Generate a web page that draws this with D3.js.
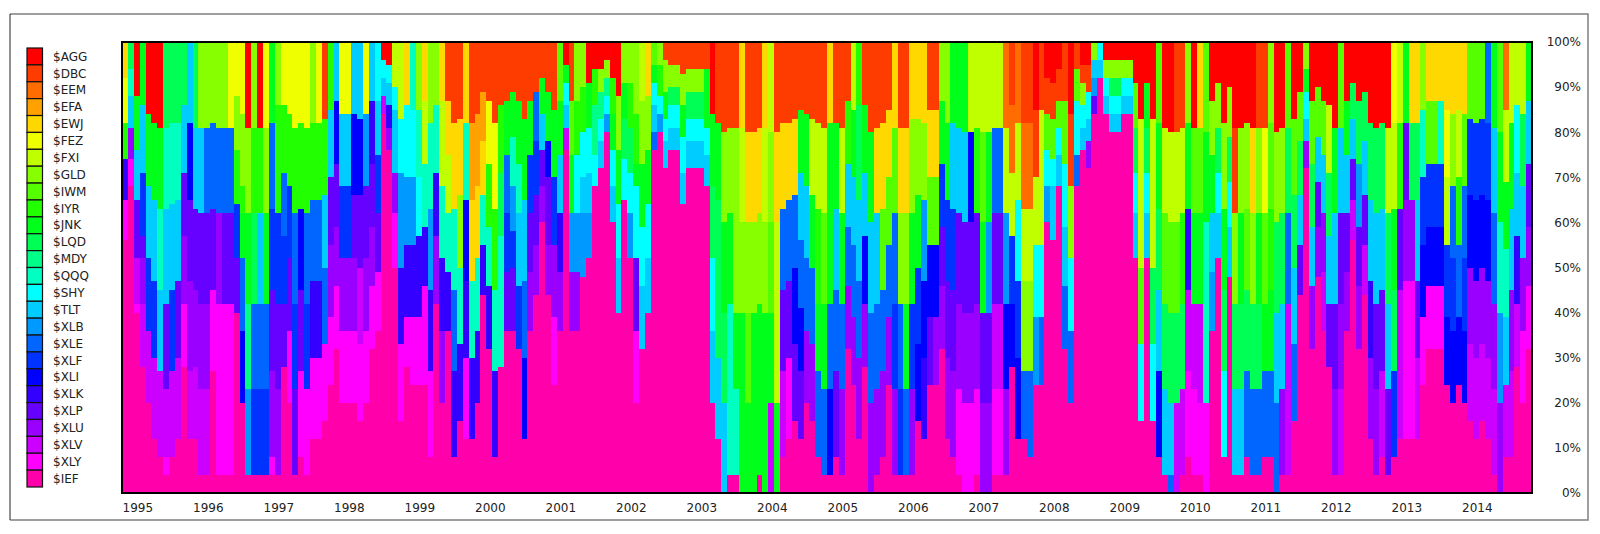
<!DOCTYPE html>
<html><head><meta charset="utf-8">
<script src="https://cdn.jsdelivr.net/npm/d3@7"></script>
<style>html,body{margin:0;background:#fff}text{font-family:"DejaVu Sans",sans-serif;font-size:12px;fill:#222}</style>
</head><body><svg id="c" width="1600" height="534"></svg>
<script>
const tickers=["$AGG","$DBC","$EEM","$EFA","$EWJ","$FEZ","$FXI","$GLD","$IWM","$IYR","$JNK","$LQD","$MDY","$QQQ","$SHY","$TLT","$XLB","$XLE","$XLF","$XLI","$XLK","$XLP","$XLU","$XLV","$XLY","$IEF"];
const colours=["#ff0000","#ff3c00","#ff6c00","#ffa200","#ffd800","#f0ff00","#bfff00","#88ff00","#55ff00","#22ff00","#00ff1a","#00ff55","#00ff88","#00ffc0","#00ffff","#00ccff","#0099ff","#0066ff","#0033ff","#0000ff","#3300ff","#6600ff","#9900ff","#cc00ff","#ff00ff","#ff00aa"];
const years=[1995,1996,1997,1998,1999,2000,2001,2002,2003,2004,2005,2006,2007,2008,2009,2010,2011,2012,2013,2014];
const pctTicks=[0,10,20,30,40,50,60,70,80,90,100];
// Each month, top of the stack downward: ticker index, then the share level where that band ends.
const y1995=[[4,92,5,82,9,74,20,65,24,56,25,0],[11,94,13,88,15,81,22,74,24,68,25,0],[0,88,10,76,15,65,21,52,23,42,24,40,25,0],[10,86,15,71,18,57,21,52,22,42,23,28,25,0],[0,84,10,68,15,52,18,36,23,20,25,0],[0,82,10,65,15,47,18,30,23,12,25,0],[0,81,10,63,13,45,15,27,23,8,25,0],[11,81,13,63,15,42,21,23,23,8,24,4,25,0],[11,82,13,64,15,45,18,27,23,8,25,0],[11,82,13,65,15,47,21,30,23,12,25,0],[11,86,15,71,21,57,22,42,24,28,25,0],[15,82,19,65,21,47,22,27,23,12,25,0]];
const y1996=[[11,81,15,63,21,45,22,28,23,12,25,0],[7,81,15,62,21,42,22,23,23,4,25,0],[7,81,17,62,21,42,22,23,23,4,25,0],[7,82,17,63,21,45,24,27,25,0],[7,81,17,62,22,42,24,4,25,0],[7,81,17,62,21,42,24,4,25,0],[5,81,17,62,21,42,24,4,25,0],[5,88,7,76,9,64,18,52,21,40,25,0],[5,84,7,68,9,62,10,52,17,36,19,20,25,0],[0,81,7,62,10,42,12,23,16,4,25,0],[7,81,9,62,11,42,17,23,18,4,25,0],[0,81,9,62,15,42,17,23,18,4,25,0]];
const y1997=[[5,81,7,62,10,42,17,23,18,4,25,0],[10,82,17,63,18,45,21,27,22,8,24,4,25,0],[7,86,9,62,18,42,21,23,22,4,25,0],[5,86,9,71,17,57,18,42,21,28,25,0],[5,84,9,68,18,52,21,36,24,20,25,0],[5,81,9,62,17,42,18,23,21,4,25,0],[5,82,9,63,19,45,21,27,24,8,25,0],[5,81,9,62,17,42,18,23,24,4,25,0],[7,82,9,65,17,47,20,30,24,12,25,0],[5,82,9,65,17,47,20,30,24,12,25,0],[1,83,9,66,15,50,17,33,24,16,25,0],[9,85,15,70,21,55,22,39,24,24,25,0]];
const y1998=[[15,87,19,73,21,59,22,46,24,32,25,0],[5,84,15,68,18,52,22,36,24,20,25,0],[5,84,15,68,18,52,22,36,24,20,25,0],[15,84,19,66,21,52,22,36,24,20,25,0],[15,83,19,66,21,50,23,33,24,16,25,0],[5,84,16,68,21,52,22,36,24,20,25,0],[15,87,20,73,21,59,22,46,24,32,25,0],[14,87,15,75,18,62,21,49,24,36,25,0],[0,96,14,92,15,88,23,84,25,0],[0,95,14,91,15,86,20,81,22,76,25,0],[6,90,14,85,15,71,22,62,24,50,25,0],[6,83,14,71,16,50,20,33,24,16,25,0]];
const y1999=[[4,86,14,70,16,55,20,39,24,28,25,0],[13,85,14,70,16,55,20,39,24,24,25,0],[7,85,13,70,14,57,20,39,24,24,25,0],[4,87,6,73,13,59,20,46,24,24,25,0],[7,82,13,63,16,45,20,27,24,8,25,0],[7,86,13,71,20,57,22,42,25,0],[4,87,6,68,13,52,20,36,22,20,25,0],[1,87,4,75,6,62,13,49,20,36,25,0],[1,82,4,63,13,45,17,27,20,8,25,0],[1,83,4,66,7,50,13,33,20,16,25,0],[4,82,13,65,19,47,20,30,24,12,25,0],[1,82,3,65,4,47,13,30,20,12,25,0]];
const y2000=[[1,84,3,68,4,52,13,36,20,20,25,0],[1,89,3,78,4,66,13,55,20,44,25,0],[1,87,5,73,9,59,13,46,20,32,25,0],[1,82,5,63,9,45,13,27,20,8,25,0],[1,86,9,71,11,57,13,28,25,0],[1,87,10,75,17,62,18,49,21,36,25,0],[1,89,10,79,13,68,16,58,18,50,21,36,25,0],[1,87,10,73,13,62,15,46,18,32,25,0],[1,83,10,65,15,47,17,30,19,12,25,0],[1,87,10,75,18,62,21,49,22,36,25,0],[1,89,17,78,18,66,21,55,22,44,25,0],[1,92,10,84,15,76,21,68,22,60,25,0]];
const y2001=[[1,89,10,78,19,70,21,55,22,44,25,0],[1,85,10,70,18,55,22,39,24,24,25,0],[8,87,10,75,15,62,20,49,22,36,25,0],[0,95,10,91,14,86,15,81,23,76,25,0],[1,87,8,75,10,62,16,49,22,36,25,0],[7,87,9,75,14,62,16,49,22,36,25,0],[7,90,9,80,14,70,15,62,16,48,25,0],[0,91,10,81,14,71,15,62,16,52,25,0],[0,94,9,86,12,75,14,68,25,0],[0,94,7,89,12,83,14,78,15,72,25,0],[0,96,7,92,12,88,14,84,16,80,25,0],[0,92,9,84,10,76,14,68,15,60,25,0]];
const y2002=[[0,88,7,76,10,64,14,52,15,40,25,0],[7,91,10,83,11,74,14,65,25,0],[7,91,9,81,11,71,14,62,16,52,25,0],[7,84,9,73,10,68,14,52,21,36,24,20,25,0],[6,87,7,73,10,59,14,46,15,32,25,0],[4,88,7,76,10,64,14,52,15,40,25,0],[8,95,10,91,14,86,15,80,17,76,25,0],[7,95,9,88,14,84,16,80,25,0],[1,96,7,89,10,83,14,78,15,72,25,0],[1,95,7,90,11,86,14,81,15,76,25,0],[1,95,7,90,11,86,14,81,15,76,25,0],[1,93,7,86,10,79,14,71,15,64,25,0]];
const y2003=[[1,94,7,89,11,83,14,78,15,72,25,0],[1,94,7,89,11,83,14,78,15,72,25,0],[1,94,7,89,11,83,14,78,15,72,25,0],[1,94,10,81,14,75,15,68,25,0],[0,84,10,68,11,52,14,36,15,20,25,0],[1,82,10,65,11,30,15,12,25,0],[1,80,7,60,10,40,11,20,15,0],[1,81,7,62,10,42,13,4,25,0],[1,81,7,40,10,23,13,4,25,0],[4,81,6,60,7,40,10,0],[1,80,4,60,7,40,8,20,10,0],[1,80,4,60,7,40,10,0]];
const y2004=[[1,81,4,62,7,42,10,4,25,0],[4,81,6,60,7,40,10,0],[6,80,7,60,8,40,10,20,23,0],[1,80,4,60,6,20,10,0],[1,82,4,63,17,45,21,27,23,8,25,0],[1,82,4,65,17,47,21,30,24,12,25,0],[1,83,4,66,17,50,19,33,21,16,25,0],[1,85,10,71,15,56,17,41,19,27,21,12,25,0],[1,84,10,68,15,52,17,36,22,20,25,0],[1,83,6,66,10,50,17,33,22,16,25,0],[1,82,6,63,9,42,10,27,17,8,25,0],[1,81,6,62,8,42,10,23,17,4,25,0]];
const y2005=[[4,82,10,42,17,23,19,4,25,0],[1,82,10,63,15,45,17,27,21,8,25,0],[1,81,6,62,10,42,17,23,22,4,25,0],[1,87,9,73,15,59,17,46,22,32,25,0],[6,85,10,70,15,55,17,39,22,24,25,0],[9,86,11,65,15,47,17,30,22,12,25,0],[1,86,10,71,15,57,19,42,22,28,25,0],[1,80,10,60,15,40,17,20,22,0],[1,81,4,62,15,42,17,23,22,4,25,0],[1,82,4,63,8,45,17,27,22,8,25,0],[1,85,4,70,8,55,17,39,22,24,25,0],[4,81,8,62,17,42,18,23,22,4,25,0]];
const y2006=[[1,81,4,62,7,42,17,23,18,4,25,0],[1,81,4,62,7,42,10,23,17,4,25,0],[4,83,7,62,10,42,18,23,22,4,25,0],[4,83,7,66,10,50,18,33,19,16,25,0],[4,82,7,65,16,47,19,30,20,12,25,0],[1,85,4,70,8,55,19,39,21,24,25,0],[1,85,4,70,8,55,19,39,22,24,25,0],[7,87,10,73,18,59,21,46,22,32,25,0],[7,82,10,65,18,47,21,30,22,12,25,0],[10,82,15,63,18,45,21,27,22,8,25,0],[10,81,15,62,21,42,22,23,24,4,25,0],[10,80,15,60,21,40,22,20,24,0]];
const y2007=[[6,80,19,60,21,40,22,20,24,0],[6,81,9,62,21,42,22,23,24,4,25,0],[6,80,8,60,10,40,21,20,22,0],[6,80,10,60,16,40,21,20,22,0],[6,81,17,62,21,42,23,23,24,4,25,0],[6,81,17,62,21,42,23,23,24,4,25,0],[2,81,6,62,16,42,19,23,22,4,25,0],[1,86,2,71,6,57,18,42,19,28,25,0],[2,82,6,65,14,47,18,30,19,12,25,0],[1,82,2,63,6,47,7,27,17,12,25,0],[1,82,2,63,6,47,7,27,17,8,25,0],[0,85,1,70,6,55,14,39,16,24,25,0]];
const y2008=[[1,85,6,55,14,39,17,24,25,0],[0,92,1,84,8,76,14,68,16,60,25,0],[0,91,1,83,8,74,14,68,15,56,25,0],[0,94,1,87,8,81,14,75,15,68,25,0],[1,87,8,73,14,59,15,46,17,32,25,0],[0,84,1,68,7,52,14,36,17,20,25,0],[1,94,8,87,14,75,17,68,25,0],[0,95,1,91,7,86,14,81,15,76,25,0],[0,95,1,89,14,83,15,78,22,72,25,0],[7,96,15,92,16,88,21,84,25,0],[14,96,15,92,25,0],[0,96,7,92,14,88,15,84,25,0]];
const y2009=[[0,96,7,92,11,88,14,84,15,80,25,0],[0,96,7,92,11,88,14,84,15,80,25,0],[0,96,7,92,14,88,15,84,25,0],[0,96,7,92,14,88,15,84,25,0],[0,91,8,81,11,71,14,62,15,52,25,0],[0,83,6,50,8,33,14,16,25,0],[0,91,10,81,11,71,14,62,15,52,25,0],[0,83,6,50,11,33,14,16,25,0],[8,82,10,63,11,45,15,27,19,8,25,0],[0,81,6,62,8,42,11,23,15,4,25,0],[0,80,6,60,8,40,11,20,15,4,17,0],[1,80,6,60,8,40,11,20,23,0]];
const y2010=[[1,81,6,62,9,42,11,23,23,4,25,0],[7,82,10,63,20,45,23,27,24,8,25,0],[0,81,8,62,10,42,23,23,24,4,25,0],[4,81,8,62,10,42,23,20,24,4,25,0],[8,80,10,60,13,20,24,0],[0,87,7,75,10,62,15,49,16,36,25,0],[0,91,7,81,11,71,14,62,15,52,25,0],[0,82,7,63,10,45,11,27,14,8,25,0],[0,90,7,79,11,69,14,59,15,48,25,0],[0,81,1,62,7,42,11,23,15,4,25,0],[0,81,7,62,10,42,11,23,15,4,25,0],[0,82,7,63,8,45,11,27,17,8,25,0]];
const y2011=[[0,81,4,62,7,42,11,23,17,4,25,0],[1,81,7,62,10,42,11,23,17,4,25,0],[1,81,5,62,8,42,10,27,17,8,25,0],[7,82,8,63,9,45,10,27,17,8,25,0],[0,80,7,60,11,40,15,20,17,0],[0,81,7,62,11,42,15,23,22,4,25,0],[8,81,11,62,17,42,23,4,25,0],[0,83,8,66,11,50,15,33,17,16,25,0],[0,89,8,78,11,66,15,55,21,44,25,0],[7,94,10,89,14,83,15,78,22,72,25,0],[0,87,8,73,11,59,15,46,22,32,25,0],[0,90,8,79,15,69,21,59,22,48,25,0]];
const y2012=[[0,87,8,75,15,62,22,49,23,36,25,0],[0,86,6,71,11,57,15,42,21,28,25,0],[0,81,10,62,15,42,21,23,22,4,25,0],[8,81,15,62,21,42,22,23,23,4,25,0],[0,87,10,75,15,62,21,49,22,36,25,0],[0,91,11,83,15,74,21,65,23,56,25,0],[0,87,11,73,16,59,21,46,22,32,25,0],[0,89,11,78,15,66,21,55,23,44,25,0],[0,82,11,65,15,47,20,30,22,12,25,0],[0,81,11,62,15,42,21,23,22,4,25,0],[0,82,11,63,15,45,21,27,23,8,25,0],[0,81,6,62,11,42,15,23,21,4,25,0]];
const y2013=[[5,82,6,63,10,45,11,27,18,8,25,0],[6,82,9,63,21,45,23,12,25,0],[10,82,21,65,22,47,24,12,25,0],[4,82,11,65,22,47,24,12,25,0],[4,82,11,65,15,47,21,30,23,12,25,0],[7,85,13,70,18,55,19,39,24,24,25,0],[4,87,8,73,18,59,19,46,24,32,25,0],[4,87,8,73,18,59,19,46,24,32,25,0],[4,87,13,73,18,59,19,46,24,32,25,0],[4,85,5,70,6,55,18,39,19,24,25,0],[4,84,7,68,17,52,18,36,19,20,25,0],[4,85,6,70,9,55,17,39,19,24,25,0]];
const y2014=[[4,84,8,68,17,52,18,36,19,20,25,0],[8,83,18,66,19,50,22,33,23,16,25,0],[8,82,18,65,19,47,22,30,23,12,25,0],[8,83,18,66,19,50,22,33,23,16,25,0],[17,82,18,65,19,47,22,30,23,12,25,0],[10,81,15,62,17,42,22,23,23,4,25,0],[8,80,10,60,13,40,16,20,22,0],[2,85,6,69,10,54,13,39,15,24,23,8,25,0],[6,82,10,63,15,45,22,27,23,8,25,0],[6,86,14,71,15,57,20,42,23,28,25,0],[6,84,11,68,15,52,22,36,24,20,25,0],[10,87,15,73,21,59,22,46,24,32,25,0]];
const months=[y1995,y1996,y1997,y1998,y1999,y2000,y2001,y2002,y2003,y2004,y2005,y2006,y2007,y2008,y2009,y2010,y2011,y2012,y2013,y2014].flat();

const table=months.map((m,i)=>{
  const row={month:i};tickers.forEach(t=>row[t]=0);
  let top=100;
  for(let k=0;k<m.length;k+=2){row[tickers[m[k]]]=top-m[k+1];top=m[k+1];}
  return row;
});
const svg=d3.select("#c");
const x=d3.scaleLinear().domain([0,months.length]).range([122,1532]);
const y=d3.scaleLinear().domain([0,100]).range([493,42]);
const frame=svg.append("g").attr("fill","none");
frame.append("path").attr("d","M10,14H1588V520H10").attr("stroke","#808080").attr("stroke-width",1.5);
frame.append("path").attr("d","M10,14V520").attr("stroke","#222").attr("stroke-width",1);
const stack=d3.stack().keys(tickers.slice().reverse())(table);
svg.append("g").attr("shape-rendering","crispEdges").selectAll("g").data(stack).join("g")
 .attr("fill",d=>colours[tickers.indexOf(d.key)])
 .selectAll("rect").data(d=>d.filter(p=>p[1]>p[0])).join("rect")
 .attr("x",d=>x(d.data.month)).attr("width",d=>x(d.data.month+1)-x(d.data.month))
 .attr("y",d=>y(d[1])).attr("height",d=>y(d[0])-y(d[1]));
svg.append("rect").attr("x",x.range()[0]).attr("y",y(100)).attr("width",x.range()[1]-x.range()[0]).attr("height",y(0)-y(100))
 .attr("fill","none").attr("stroke","#000").attr("stroke-width",2);
const xAxis=d3.axisBottom(x).tickValues(years.map((v,i)=>i*12)).tickFormat((d,i)=>years[i]).tickSize(0);
const gx=svg.append("g").attr("transform",`translate(0,${y(0)})`).call(xAxis);
gx.select(".domain").remove();
gx.selectAll("text").attr("text-anchor","start").attr("dy",0).attr("y",18.5);
const yAxis=d3.axisRight(y).tickValues(pctTicks).tickFormat(d=>d+"%").tickSize(0);
const gy=svg.append("g").attr("transform","translate(1581,0)").call(yAxis);
gy.select(".domain").remove();
gy.selectAll("text").attr("text-anchor","end").attr("x",0);
const leg=d3.scaleBand().domain(tickers).range([48,487]);
const lg=svg.append("g").selectAll("g").data(tickers).join("g").attr("transform",d=>`translate(27,${leg(d)})`);
lg.append("rect").attr("width",15.5).attr("height",leg.bandwidth()).attr("fill",(d,i)=>colours[i]).attr("stroke","#111").attr("stroke-width",1.2);
lg.append("text").attr("x",26).attr("y",leg.bandwidth()/2).attr("dy","0.35em").text(d=>d);
</script></body></html>
